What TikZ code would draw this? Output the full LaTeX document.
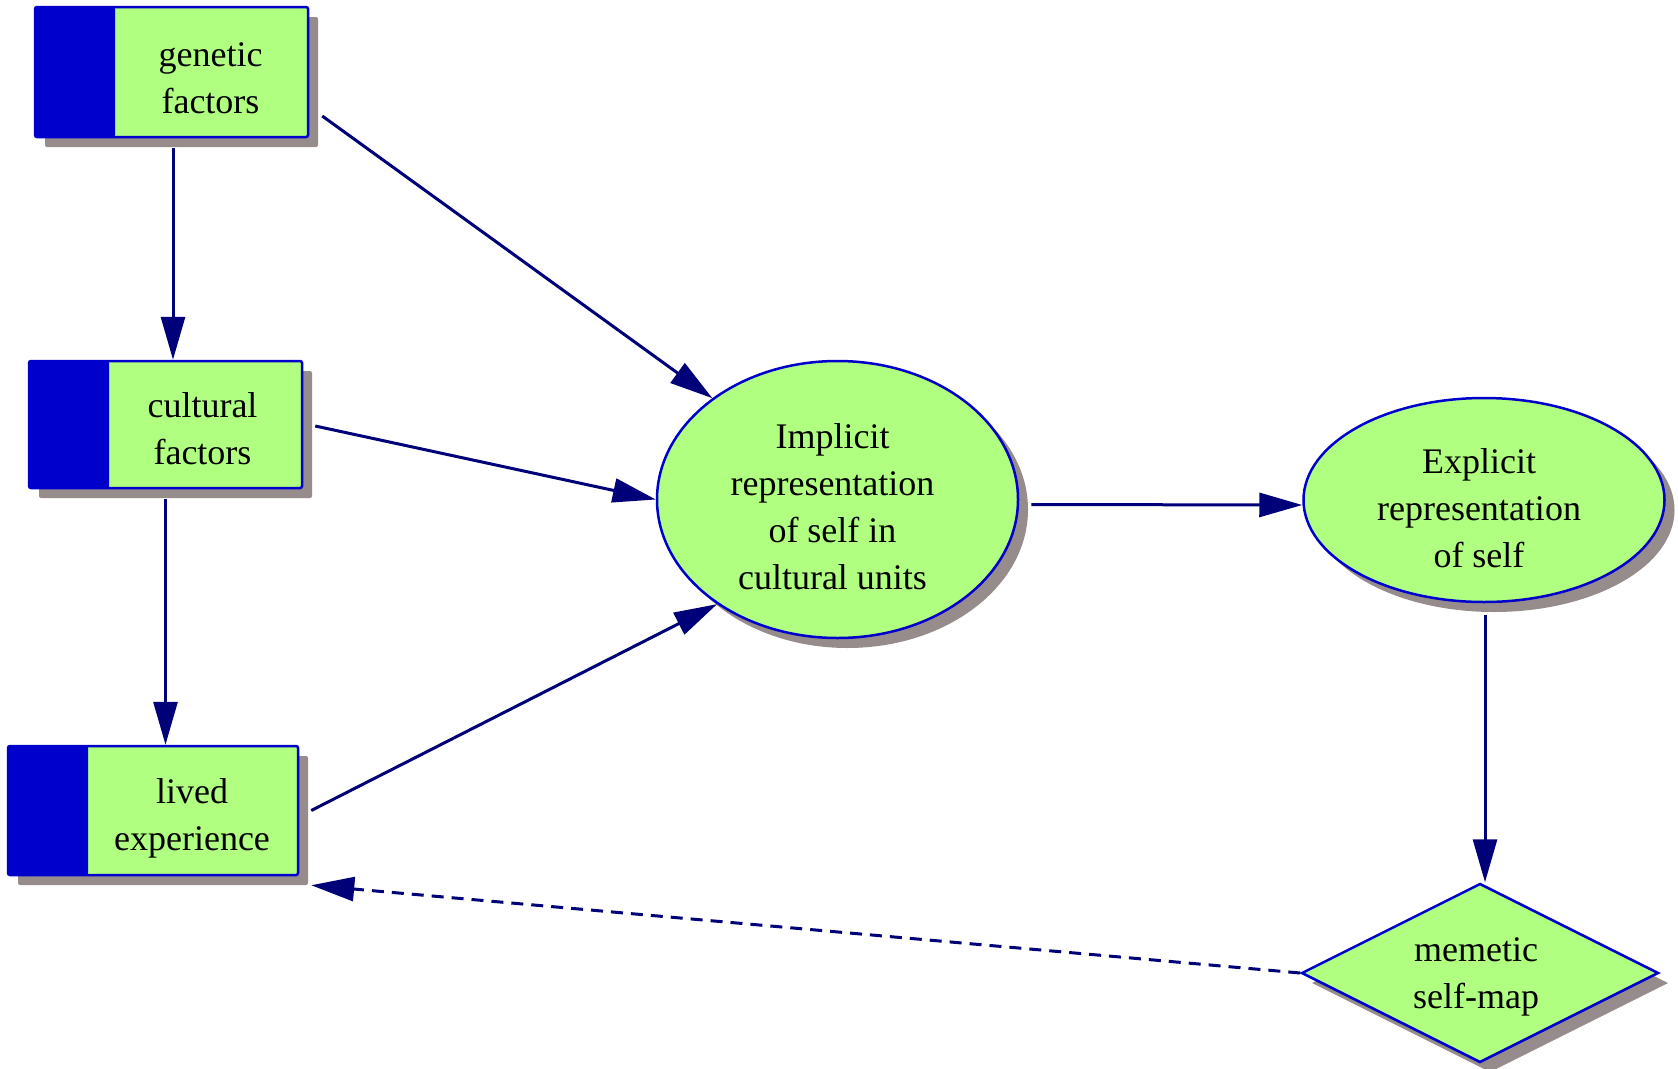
\documentclass[tikz,border=0pt]{standalone}
\usepackage{fontspec}
\setmainfont{Liberation Serif}
\usetikzlibrary{arrows.meta,shapes.geometric,shadows}
\definecolor{nodegreen}{RGB}{176,255,128}
\definecolor{nodeblue}{RGB}{0,0,204}
\definecolor{shadowgray}{RGB}{150,140,140}
\definecolor{navyline}{RGB}{0,0,120}
\tikzset{
  shad/.style={general shadow={shadow xshift=10pt, shadow yshift=-10pt, fill=shadowgray}},
  box/.style={rectangle, draw=nodeblue, line width=2.5pt, fill=nodegreen, rounded corners=2pt, inner sep=0pt, shad,
    path picture={\fill[nodeblue] (path picture bounding box.north west) rectangle ([xshift=80pt]path picture bounding box.south west);}},
  boxtext/.style={align=center, inner sep=0pt, font=\fontsize{36}{47}\selectfont},
  ell/.style={ellipse, draw=nodeblue, line width=2.5pt, fill=nodegreen, inner sep=0pt, shad},
  dia/.style={diamond, draw=nodeblue, line width=2.5pt, fill=nodegreen, inner sep=0pt, aspect=2, shad},
  arr/.style={draw=navyline, line width=3pt, -{Triangle[length=43pt,width=24pt]}},
  dasharr/.style={arr, dash pattern=on 12pt off 8pt}
}
\begin{document}
\begin{tikzpicture}[x=1pt,y=-1pt]
\useasboundingbox[fill=white] (0,0) rectangle (1678,1068);

\node[box, minimum width=273pt, minimum height=130pt] (g) at (171.5,72) {};
\node[boxtext] (gt) at ([shift={(39,6)}]g.center) {genetic\\factors};

\node[box, minimum width=273pt, minimum height=127pt] (c) at (165.5,424.5) {};
\node[boxtext] (ct) at ([shift={(37,4)}]c.center) {cultural\\factors};

\node[box, minimum width=290pt, minimum height=129pt] (l) at (153,810.5) {};
\node[boxtext] (lt) at ([shift={(39,8)}]l.center) {lived\\experience};

\node[ell, minimum width=361pt, minimum height=277pt] (imp) at (837.5,499.5) {};
\node[boxtext] (impt) at ([shift={(-5,7)}]imp.center) {Implicit\\representation\\of self in\\cultural units};

\node[ell, minimum width=361pt, minimum height=204pt] (exp) at (1484,500) {};
\node[boxtext] (expt) at ([shift={(-5,8)}]exp.center) {Explicit\\representation\\of self};

\node[dia, minimum width=357pt, minimum height=179pt] (dm) at (1480,973) {};
\node[boxtext] (dmt) at ([shift={(-4,4)}]dm.center) {memetic\\self-map};

\draw[arr, shorten <=10pt] ([xshift=1.5pt]g.south) -- ([xshift=1.5pt]g.south |- c.north);
\draw[arr] ([shift={(13,44)}]g.east) -- (imp.141);
\draw[arr] ([shift={(12,1.5)}]c.east) -- (imp.west);
\draw[arr, shorten <=10pt] (c.south) -- (c.south |- l.north);
\draw[arr] ([shift={(12,0)}]l.east) -- (imp.221);
\draw[arr] ([shift={(12,5)}]imp.east) -- ([shift={(0,5)}]exp.west);
\draw[arr, shorten <=12pt] ([xshift=1pt]exp.south) -- ([xshift=1pt]exp.south |- dm.north);
\draw[dasharr] (dm.west) -- ([shift={(12,9)}]l.south east);
\end{tikzpicture}
\end{document}
